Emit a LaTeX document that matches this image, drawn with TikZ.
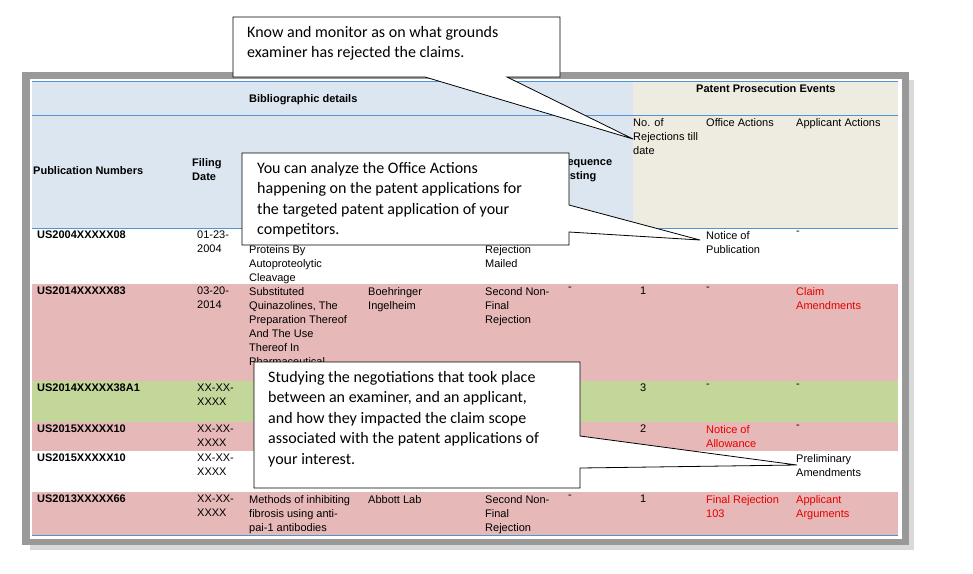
\documentclass[tikz,border=0pt]{standalone}
\usepackage{fontspec}
\setmainfont{Liberation Sans}
\newfontfamily\calfont{Carlito}
\begin{document}
\begin{tikzpicture}[x=1pt,y=-1pt,
  t/.style={anchor=north west,inner sep=0pt,align=left,font=\fontsize{11}{14}\selectfont},
  tb/.style={t,font=\fontsize{11}{14}\selectfont\bfseries},
  red/.style={text=red!90!black},
  co/.style={draw=black,fill=white,line width=0.8pt},
  cot/.style={anchor=north west,inner sep=0pt,align=left,font=\calfont\fontsize{16}{20.5}\selectfont}]
\definecolor{hb}{HTML}{DCE6F1}\definecolor{hg}{HTML}{EEECE1}
\definecolor{pk}{HTML}{E6B8B7}\definecolor{gr}{HTML}{C4D79B}\definecolor{bl}{HTML}{4F94D4}
\useasboundingbox (0,0) rectangle (973,573);
% frame
\fill[black!15] (30,80) rectangle (914,550);
\fill[black!40] (22,72) rectangle (909,545);
\fill[white] (30,79) rectangle (902,539);
% header bands
\fill[hb] (32,81) rectangle (633,228);
\fill[hg] (633,81) rectangle (898,228);
\fill[pk] (32,284) rectangle (898,381);
\fill[gr] (32,381) rectangle (898,422);
\fill[pk] (32,422) rectangle (898,451);
\fill[pk] (32,492) rectangle (898,535);
\draw[bl,line width=0.8pt] (32,81)--(898,81) (32,115)--(898,115) (32,228)--(898,228) (32,535)--(898,535);
% header text
\node[tb] (h1) at (249,94) {Bibliographic details};
\node[tb] (h2) at (696,84) {Patent Prosecution Events};
\node[tb] (c1) at (33,166) {Publication Numbers};
\node[tb] (c2) at (192,158) {Filing\\Date};
\node[tb] (c6) at (560,158) {Sequence\\Listing};
\node[t] (c7) at (633,118) {No. of\\Rejections till\\date};
\node[t] (c8) at (706,118) {Office Actions};
\node[t] (c9) at (796,118) {Applicant Actions};
% row 1
\node[tb] (r1a) at (37,231) {US2004XXXXX08};
\node[t] (r1b) at (197,231) {01-23-\\2004};
\node[t] (r1c) at (249,245) {Proteins By\\Autoproteolytic\\Cleavage};
\node[t] (r1e) at (485,245) {Rejection\\Mailed};
\node[t] (r1h) at (706,231) {Notice of\\Publication};
\node[t] (r1i) at (796,231) {-};
% row 2
\node[tb] (r2a) at (37,287) {US2014XXXXX83};
\node[t] (r2b) at (197,287) {03-20-\\2014};
\node[t] (r2c) at (249,287) {Substituted\\Quinazolines, The\\Preparation Thereof\\And The Use\\Thereof In\\Pharmaceutical};
\node[t] (r2d) at (368,287) {Boehringer\\Ingelheim};
\node[t] (r2e) at (485,287) {Second Non-\\Final\\Rejection};
\node[t] (r2f) at (568,287) {-};
\node[t] (r2g) at (640,287) {1};
\node[t] (r2h) at (706,287) {-};
\node[t,red] (r2i) at (796,287) {Claim\\Amendments};
% row 3
\node[tb] (r3a) at (37,384) {US2014XXXXX38A1};
\node[t] (r3b) at (197,384) {XX-XX-\\XXXX};
\node[t] (r3g) at (640,384) {3};
\node[t] (r3h) at (706,384) {-};
\node[t] (r3i) at (796,384) {-};
% row 4
\node[tb] (r4a) at (37,425) {US2015XXXXX10};
\node[t] (r4b) at (197,425) {XX-XX-\\XXXX};
\node[t] (r4g) at (640,425) {2};
\node[t,red] (r4h) at (706,425) {Notice of\\Allowance};
\node[t] (r4i) at (796,425) {-};
% row 5
\node[tb] (r5a) at (37,454) {US2015XXXXX10};
\node[t] (r5b) at (197,454) {XX-XX-\\XXXX};
\node[t] (r5i) at (796,454) {Preliminary\\Amendments};
% row 6
\node[tb] (r6a) at (37,495) {US2013XXXXX66};
\node[t] (r6b) at (197,495) {XX-XX-\\XXXX};
\node[t] (r6c) at (249,495) {Methods of inhibiting\\fibrosis using anti-\\pai-1 antibodies};
\node[t] (r6d) at (368,495) {Abbott Lab};
\node[t] (r6e) at (485,495) {Second Non-\\Final\\Rejection};
\node[t] (r6f) at (568,495) {-};
\node[t] (r6g) at (640,495) {1};
\node[t,red] (r6h) at (706,495) {Final Rejection\\103};
\node[t,red] (r6i) at (796,495) {Applicant\\Arguments};
% callout 1
\coordinate (p1) at (633,139);
\draw[co] (233,17) -- (560,17) -- (560,77) -- (507,77) -- (p1) -- (425,77) -- (233,77) -- cycle;
\node[cot] (k1) at (247,26) {Know and monitor as on what grounds\\examiner has rejected the claims.};
% callout 2
\coordinate (p2) at (700,240);
\draw[co] (242,153) -- (569,153) -- (569,205) -- (p2) -- (569,232) -- (569,245) -- (242,245) -- cycle;
\node[cot] (k2) at (257,162) {You can analyze the Office Actions\\happening on the patent applications for\\the targeted patent application of your\\competitors.};
% callout 3
\coordinate (p3) at (797,465);
\draw[co] (254,362) -- (580,362) -- (580,436) -- (p3) -- (580,468) -- (580,488) -- (254,488) -- cycle;
\node[cot] (k3) at (268,371) {Studying the negotiations that took place\\between an examiner, and an applicant,\\and how they impacted the claim scope\\associated with the patent applications of\\your interest.};
\end{tikzpicture}
\end{document}
